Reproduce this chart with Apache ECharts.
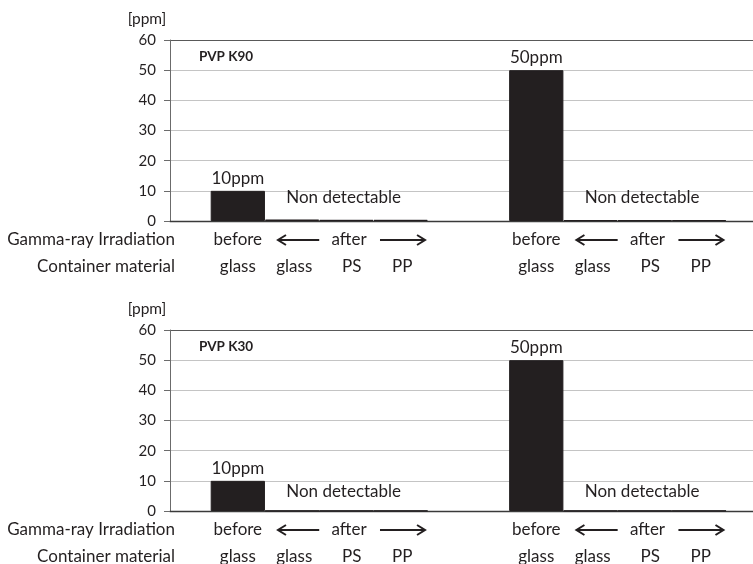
<!DOCTYPE html>
<html><head><meta charset="utf-8">
<script src="https://cdn.jsdelivr.net/npm/echarts@6/dist/echarts.min.js"></script>
<style>html,body{margin:0;padding:0;background:#fff}#c{width:753px;height:564px}</style>
</head><body><div id="c"></div>
<script>
// ---- data ----
const containers = ['glass', 'glass', 'PS', 'PP'];
const irradiation = ['before', 'after', 'after', 'after'];
const panelNames = ['PVP K90', 'PVP K30'];
const k90Group1 = [10, 0.5, 0.4, 0.4];
const k90Group2 = [50, 0.3, 0.25, 0.3];
const k30Group1 = [10, 0.1, 0.1, 0.1];
const k30Group2 = [50, 0.1, 0.1, 0.1];
const beforeLabels = ['10ppm', '50ppm'];
const ndText = 'Non detectable';
const rowNames = ['Gamma-ray Irradiation', 'Container material'];
const unitName = '[ppm]';
const yMin = 0, yMax = 60, yStep = 10;

// ---- layout ----
const FONT = 'Lato, "Noto Sans", sans-serif';
const INK = '#231f20';
const grids = [
  { left: 170, top: 40, width: 592, height: 181 },
  { left: 170, top: 330, width: 592, height: 181 }
];
const xMax = 10.91;
const groupStart = [0.75, 6.25];
const ndLevel = [7.9, 6.4];
const panels = [[k90Group1, k90Group2], [k30Group1, k30Group2]];

const chart = echarts.init(document.getElementById('c'), null, { renderer: 'canvas' });

const series = panels.map((groups, p) => {
  const data = [];
  groups.forEach((vals, g) => {
    vals.forEach((v, i) => {
      const item = { value: [groupStart[g] + i + 0.5, v] };
      if (irradiation[i] === 'before') {
        item.label = { show: true, position: 'top', distance: 4, formatter: beforeLabels[g],
          color: INK, fontFamily: FONT, fontSize: 17 };
      } else {
        item.itemStyle = { color: '#ffffff', borderColor: INK, borderWidth: 1 };
      }
      data.push(item);
    });
  });
  return {
    type: 'bar', xAxisIndex: p, yAxisIndex: p, data: data,
    barWidth: '100%', itemStyle: { color: INK, borderColor: INK, borderWidth: 1 },
    silent: true, animation: false
  };
});

const splitColors = ['#c4c4c4', '#c4c4c4', '#c4c4c4', '#c4c4c4', '#c4c4c4', '#c4c4c4', '#595959'];

chart.setOption({
  animation: false,
  backgroundColor: '#ffffff',
  grid: grids.map(g => Object.assign({ show: false, outerBoundsMode: 'none', containLabel: false }, g)),
  xAxis: grids.map((g, i) => ({
    type: 'value', gridIndex: i, min: 0, max: xMax, position: 'bottom',
    axisLine: { show: true, onZero: false, lineStyle: { color: '#3a3a3a', width: 1.3 } },
    axisTick: { show: false }, axisLabel: { show: false }, splitLine: { show: false }
  })),
  yAxis: grids.map((g, i) => ({
    type: 'value', gridIndex: i, min: yMin, max: yMax, interval: yStep, position: 'left',
    axisLine: { show: true, onZero: false, lineStyle: { color: '#6b6b6b', width: 1 } },
    axisTick: { show: true, length: 6, lineStyle: { color: '#6b6b6b' } },
    axisLabel: { color: INK, fontFamily: FONT, fontSize: 15, margin: 14 },
    splitLine: { show: true, lineStyle: { color: splitColors, width: 1.2 } }
  })),
  series: series
});

// ---- annotations, positioned through the axes ----
const graphic = [];
function txt(x, y, s, opt) {
  graphic.push({ type: 'text', x: x, y: y, silent: true,
    style: Object.assign({ text: s, fill: INK, font: '17px ' + FONT, textAlign: 'center', textVerticalAlign: 'middle' }, opt || {}) });
}
grids.forEach((g, p) => {
  const px = (xv, yv) => chart.convertToPixel({ gridIndex: p }, [xv, yv]);
  const axisY = px(0, 0)[1];
  const r1 = axisY + 19, r2 = axisY + 46;
  txt(199, g.top + 17, panelNames[p], { font: 'bold 13.5px ' + FONT, textAlign: 'left' });
  txt(147, g.top - 21, unitName, { font: '15.5px ' + FONT });
  txt(175, r1, rowNames[0], { textAlign: 'right' });
  txt(175, r2, rowNames[1], { textAlign: 'right' });
  groupStart.forEach((s, gi) => {
    const nd = px(s + 2.45, ndLevel[p]);
    txt(nd[0], nd[1], ndText);
    txt(px(s + 0.5, 0)[0], r1, irradiation[0]);
    txt(px(s + 2.55, 0)[0], r1, irradiation[1]);
    const la = px(s + 1.24, 0)[0], lb = px(s + 2.0, 0)[0];
    const ra = px(s + 3.12, 0)[0], rb = px(s + 3.95, 0)[0];
    graphic.push({ type: 'line', silent: true, shape: { x1: la + 1, y1: r1, x2: lb, y2: r1 }, style: { stroke: INK, lineWidth: 2 } });
    graphic.push({ type: 'polyline', silent: true, shape: { points: [[la + 8, r1 - 5], [la, r1], [la + 8, r1 + 5]] }, style: { stroke: INK, lineWidth: 2, fill: null } });
    graphic.push({ type: 'line', silent: true, shape: { x1: ra, y1: r1, x2: rb - 1, y2: r1 }, style: { stroke: INK, lineWidth: 2 } });
    graphic.push({ type: 'polyline', silent: true, shape: { points: [[rb - 8, r1 - 5], [rb, r1], [rb - 8, r1 + 5]] }, style: { stroke: INK, lineWidth: 2, fill: null } });
    const cOff = [0.5, 1.54, 2.6, 3.53];
    containers.forEach((c, i) => txt(px(s + cOff[i], 0)[0], r2, c));
  });
});
chart.setOption({ graphic: graphic });
</script>
</body></html>
